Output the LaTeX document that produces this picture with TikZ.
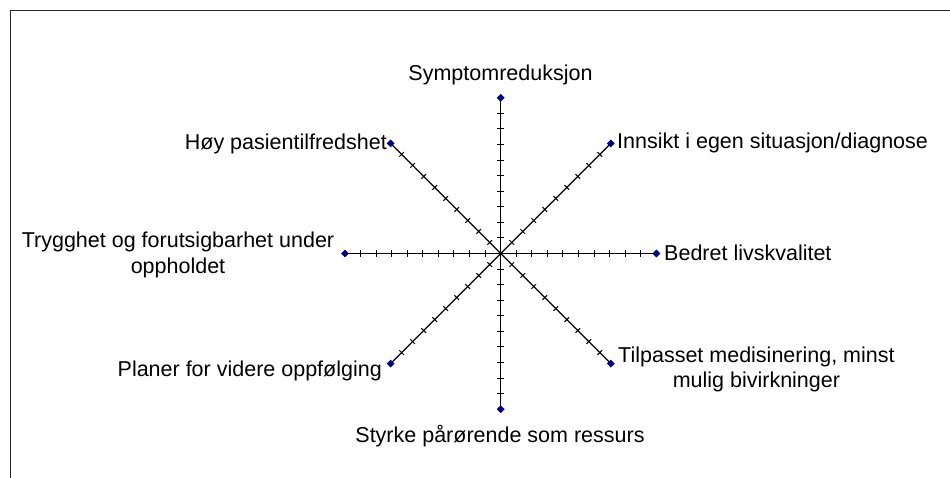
\documentclass[tikz,border=0pt]{standalone}
\usepackage{fontspec}
\setmainfont{Liberation Sans}
\usetikzlibrary{shapes.geometric,decorations.markings}
\definecolor{mark}{HTML}{000080}
\tikzset{
  axisline/.style={line width=1.2pt, black,
    postaction={decorate},
    decoration={markings, mark=between positions 0.1 and 0.95 step 0.1 with {\draw[line width=1pt] (0,-3.3pt) -- (0,3.3pt);}}},
  endmark/.style={diamond, fill=mark, draw=none, inner sep=0pt, minimum width=8pt, minimum height=8pt},
  lbl/.style={font=\fontsize{21.5}{25}\selectfont, inner sep=0pt, text=black},
  frame/.style={line width=1pt, black!85}
}
\begin{document}
\begin{tikzpicture}[x=1pt,y=-1pt]
\useasboundingbox (0,0) rectangle (950,478);
\draw[frame] (10,478) -- (10,11) -- (950,11);
\coordinate (c) at (500.7,253.5);
\coordinate (pN) at (500.7,97.8);
\coordinate (pS) at (500.7,409.2);
\coordinate (pE) at (656.4,253.5);
\coordinate (pW) at (345.0,253.5);
\coordinate (pNE) at (610.8,143.4);
\coordinate (pNW) at (390.6,143.4);
\coordinate (pSE) at (610.8,363.6);
\coordinate (pSW) at (390.6,363.6);
\foreach \p in {pN,pS,pE,pW,pNE,pNW,pSE,pSW}{
  \draw[axisline] (c) -- (\p);
}
\foreach \p in {pN,pS,pE,pW,pNE,pNW,pSE,pSW}{
  \node[endmark] (m\p) at (\p) {};
}
\node[lbl, anchor=base] (tN) at (500.5,81) {Symptomreduksjon};
\node[lbl, anchor=base west] (tNE) at (617,149) {Innsikt i egen situasjon/diagnose};
\node[lbl, anchor=base west] (tE) at (664,261) {Bedret livskvalitet};
\node[lbl, anchor=base west, align=center] (tSE) at (618,387) {Tilpasset medisinering, minst\\mulig bivirkninger};
\node[lbl, anchor=base] (tS) at (500,442) {Styrke pårørende som ressurs};
\node[lbl, anchor=base east] (tSW) at (382,376) {Planer for videre oppfølging};
\node[lbl, anchor=base east] (tNW) at (387,150) {Høy pasientilfredshet};
\node[lbl, anchor=base, align=center] (tW) at (178,273) {Trygghet og forutsigbarhet under\\oppholdet};
\end{tikzpicture}
\end{document}
